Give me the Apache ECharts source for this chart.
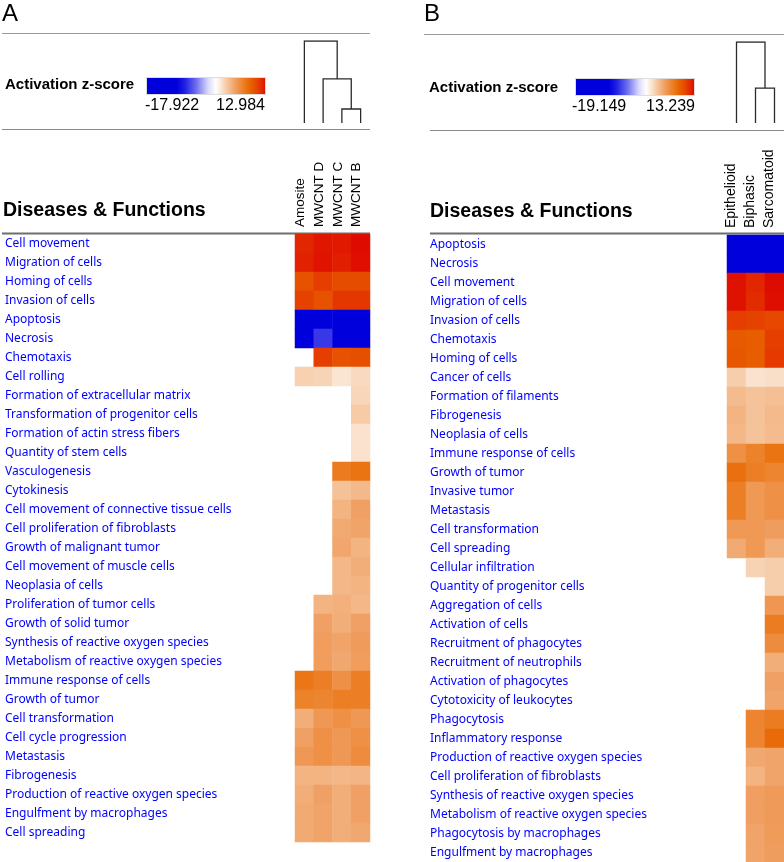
<!DOCTYPE html>
<html><head><meta charset="utf-8">
<script src="https://cdn.jsdelivr.net/npm/echarts@6/dist/echarts.min.js"></script>
<style>html,body{margin:0;padding:0;background:#fff}#c{width:784px;height:862px}</style>
</head><body><div id="c"></div><script>
// ---------- Panel A data ----------
const colsA = ['Amosite', 'MWCNT D', 'MWCNT C', 'MWCNT B'];
const rowsA = ['Cell movement','Migration of cells','Homing of cells','Invasion of cells','Apoptosis','Necrosis','Chemotaxis','Cell rolling','Formation of extracellular matrix','Transformation of progenitor cells','Formation of actin stress fibers','Quantity of stem cells','Vasculogenesis','Cytokinesis','Cell movement of connective tissue cells','Cell proliferation of fibroblasts','Growth of malignant tumor','Cell movement of muscle cells','Neoplasia of cells','Proliferation of tumor cells','Growth of solid tumor','Synthesis of reactive oxygen species','Metabolism of reactive oxygen species','Immune response of cells','Growth of tumor','Cell transformation','Cell cycle progression','Metastasis','Fibrogenesis','Production of reactive oxygen species','Engulfment by macrophages','Cell spreading'];
const amosite = [12.0,12.2,10.0,10.8,-14.2,-12.5,null,2.5,null,null,null,null,null,null,null,null,null,null,null,null,null,null,null,7.8,7.0,4.3,5.0,5.5,4.0,4.3,4.5,4.5];
const mwcntD  = [12.6,12.7,11.0,10.0,-15.6,-7.0,11.0,2.3,null,null,null,null,null,null,null,null,null,null,null,4.0,5.0,5.2,5.2,7.2,6.8,5.5,6.0,6.0,4.0,5.0,4.8,4.8];
const mwcntC  = [12.5,12.3,10.3,11.3,-17.922,-13.6,10.0,1.5,null,null,null,null,7.5,3.3,4.0,4.5,4.7,3.8,3.8,4.2,4.3,4.8,4.6,6.0,7.2,6.0,5.5,5.5,3.8,4.3,4.3,4.3];
const mwcntB  = [12.984,12.9,10.3,11.3,-16.5,-14.1,10.2,2.0,2.2,2.8,1.6,1.6,8.0,3.7,5.0,4.8,4.0,4.3,4.0,3.8,5.0,5.3,5.2,7.2,7.2,5.5,6.0,6.3,3.9,5.0,5.0,4.6];
const rangeA = [-17.922, 12.984];
const rangeLabelsA = ['-17.922', '12.984'];
// dendrogram A: leaf indices or merge references ('m0','m1'...), heights relative
const dendroA = [{left:2, right:3, height:0.171},{left:1, right:'m0', height:0.537},{left:0, right:'m1', height:1}];

// ---------- Panel B data ----------
const colsB = ['Epithelioid', 'Biphasic', 'Sarcomatoid'];
const rowsB = ['Apoptosis','Necrosis','Cell movement','Migration of cells','Invasion of cells','Chemotaxis','Homing of cells','Cancer of cells','Formation of filaments','Fibrogenesis','Neoplasia of cells','Immune response of cells','Growth of tumor','Invasive tumor','Metastasis','Cell transformation','Cell spreading','Cellular infiltration','Quantity of progenitor cells','Aggregation of cells','Activation of cells','Recruitment of phagocytes','Recruitment of neutrophils','Activation of phagocytes','Cytotoxicity of leukocytes','Phagocytosis','Inflammatory response','Production of reactive oxygen species','Cell proliferation of fibroblasts','Synthesis of reactive oxygen species','Metabolism of reactive oxygen species','Phagocytosis by macrophages','Engulfment by macrophages'];
const epithelioid = [-19.149,-13.0,12.8,12.8,11.0,9.5,9.7,2.6,3.6,4.0,3.8,6.0,8.2,7.2,7.2,5.5,4.5,null,null,null,null,null,null,null,null,null,null,null,null,null,null,null,null];
const biphasic    = [-16.0,-12.0,12.0,11.8,10.8,9.3,9.3,1.6,3.2,3.2,3.2,7.0,7.2,5.5,5.5,5.5,5.5,2.4,null,null,null,null,null,null,null,6.8,6.8,4.6,4.0,5.1,5.1,4.8,4.8];
const sarcomatoid = [-15.0,-11.5,13.239,12.9,10.5,11.0,11.2,1.8,3.4,3.7,3.6,8.0,6.8,6.0,6.0,5.2,4.3,2.6,2.6,5.6,7.4,6.3,4.3,5.0,4.8,7.4,8.5,4.8,4.8,5.4,5.4,5.3,5.2];
const rangeB = [-19.149, 13.239];
const rangeLabelsB = ['-19.149', '13.239'];
const dendroB = [{left:1, right:2, height:0.43},{left:0, right:'m0', height:1}];

// ---------- colour scale (style) ----------
const stops = [
  [-10,[0,0,220]],[-8,[30,30,225]],[-5,[110,110,240]],[-2,[215,215,250]],[0,[255,255,255]],
  [1.5,[250,228,210]],[2.5,[247,208,175]],[4,[243,180,130]],[5,[240,160,100]],[6,[238,145,70]],
  [7,[236,130,42]],[8,[234,115,18]],[9,[232,98,0]],[10,[230,82,0]],[11,[229,62,0]],[12,[226,38,0]],[13,[222,12,0]]
];
function colorOf(v){
  if (v <= stops[0][0]) return 'rgb(' + stops[0][1].join(',') + ')';
  for (let i = 1; i < stops.length; i++) {
    if (v <= stops[i][0]) {
      const [a, ca] = stops[i-1], [b, cb] = stops[i];
      const t = (v - a) / (b - a);
      return 'rgb(' + ca.map((c, k) => Math.round(c + (cb[k] - c) * t)).join(',') + ')';
    }
  }
  return 'rgb(' + stops[stops.length-1][1].join(',') + ')';
}
function sampleColors(range, n){
  const out = [];
  for (let i = 0; i < n; i++) out.push(colorOf(range[0] + (range[1]-range[0]) * i / (n-1)));
  return out;
}
function gradStops(range, n){
  const out = [];
  for (let i = 0; i < n; i++) out.push({offset: i/(n-1), color: colorOf(range[0] + (range[1]-range[0]) * i / (n-1))});
  return out;
}
function heatData(cols){
  const d = [];
  cols.forEach((arr, xi) => arr.forEach((v, yi) => { if (v !== null) d.push([xi, yi, v]); }));
  return d;
}
function dendroLines(merges){
  const nodes = [];
  const pos = r => (typeof r === 'string') ? nodes[+r.slice(1)] : {x: r, h: 0};
  const lines = [];
  merges.forEach(m => {
    const l = pos(m.left), r = pos(m.right);
    lines.push({coords: [[l.x, l.h], [l.x, m.height], [r.x, m.height], [r.x, r.h]]});
    nodes.push({x: (l.x + r.x) / 2, h: m.height});
  });
  return lines;
}

const SANS = '"Liberation Sans", Arial, sans-serif';
const LBL = '"Noto Sans", sans-serif';
const chart = echarts.init(document.getElementById('c'), null, {renderer: 'canvas'});

function hLine(x1, x2, y, color, w){
  return {type: 'line', shape: {x1, y1: y, x2, y2: y}, style: {stroke: color, lineWidth: w}, silent: true};
}
function txt(text, x, y, font, align, fill){
  return {type: 'text', style: {text, x, y, font, align: align || 'left', verticalAlign: 'middle', fill: fill || '#000'}, silent: true};
}

const graphics = [
  txt('A', 2, 14, '24px ' + SANS),
  txt('B', 424, 14, '24px ' + SANS),
  hLine(2, 370, 33.5, '#9a9a9a', 1),
  hLine(2, 370, 129.5, '#8a8a8a', 1),
  hLine(424, 784, 34.5, '#9a9a9a', 1),
  hLine(430, 784, 130.5, '#8a8a8a', 1),
  txt('Activation z-score', 5, 85, 'bold 15px ' + SANS),
  txt('Activation z-score', 429, 88, 'bold 15px ' + SANS),
  {type: 'rect', shape: {x: 146.5, y: 77.5, width: 119, height: 17},
   style: {fill: new echarts.graphic.LinearGradient(0, 0, 1, 0, gradStops(rangeA, 80)), stroke: '#dddddd', lineWidth: 1}, silent: true},
  {type: 'rect', shape: {x: 575.5, y: 78.5, width: 119, height: 17},
   style: {fill: new echarts.graphic.LinearGradient(0, 0, 1, 0, gradStops(rangeB, 80)), stroke: '#dddddd', lineWidth: 1}, silent: true},
  txt(rangeLabelsA[0], 145, 106, '16px ' + SANS),
  txt(rangeLabelsA[1], 265, 106, '16px ' + SANS, 'right'),
  txt(rangeLabelsB[0], 572, 107, '16px ' + SANS),
  txt(rangeLabelsB[1], 695, 107, '16px ' + SANS, 'right'),
  txt('Diseases & Functions', 3, 211, 'bold 19.5px ' + SANS),
  txt('Diseases & Functions', 430, 212, 'bold 19.5px ' + SANS),
  hLine(2, 370, 233.5, '#6e6e6e', 2),
  hLine(430, 784, 233.5, '#6e6e6e', 2)
];

const option = {
  animation: false,
  backgroundColor: '#fff',
  grid: [
    {left: 295, top: 234, width: 75, height: 608},
    {left: 295, top: 41, width: 75, height: 82},
    {left: 727, top: 235, width: 57, height: 627},
    {left: 727, top: 42, width: 57, height: 81}
  ],
  xAxis: [
    {type: 'category', gridIndex: 0, data: colsA, position: 'top',
     axisLine: {show: false}, axisTick: {show: false}, splitLine: {show: false}, axisLabel: {show: false}},
    {type: 'value', gridIndex: 1, min: -0.5, max: 3.5, show: false},
    {type: 'category', gridIndex: 2, data: colsB, position: 'top',
     axisLine: {show: false}, axisTick: {show: false}, splitLine: {show: false}, axisLabel: {show: false}},
    {type: 'value', gridIndex: 3, min: -0.5, max: 2.5, show: false}
  ],
  yAxis: [
    {type: 'category', gridIndex: 0, data: rowsA, inverse: true,
     axisLine: {show: false}, axisTick: {show: false}, splitLine: {show: false},
     axisLabel: {align: 'left', margin: 290, fontFamily: LBL, fontSize: 12, color: '#0000ff', interval: 0}},
    {type: 'value', gridIndex: 1, min: 0, max: 1, show: false},
    {type: 'category', gridIndex: 2, data: rowsB, inverse: true,
     axisLine: {show: false}, axisTick: {show: false}, splitLine: {show: false},
     axisLabel: {align: 'left', margin: 297, fontFamily: LBL, fontSize: 12, color: '#0000ff', interval: 0}},
    {type: 'value', gridIndex: 3, min: 0, max: 1, show: false}
  ],
  visualMap: [
    {type: 'continuous', show: false, seriesIndex: 0, min: rangeA[0], max: rangeA[1], inRange: {color: sampleColors(rangeA, 200)}},
    {type: 'continuous', show: false, seriesIndex: 2, min: rangeB[0], max: rangeB[1], inRange: {color: sampleColors(rangeB, 200)}}
  ],
  series: [
    {type: 'heatmap', xAxisIndex: 0, yAxisIndex: 0, data: heatData([amosite, mwcntD, mwcntC, mwcntB]), itemStyle: {borderWidth: 0}},
    {type: 'lines', coordinateSystem: 'cartesian2d', xAxisIndex: 1, yAxisIndex: 1, polyline: true, data: dendroLines(dendroA),
     lineStyle: {color: '#2a2a2a', width: 1.3, opacity: 1}, silent: true},
    {type: 'heatmap', xAxisIndex: 2, yAxisIndex: 2, data: heatData([epithelioid, biphasic, sarcomatoid]), itemStyle: {borderWidth: 0}},
    {type: 'lines', coordinateSystem: 'cartesian2d', xAxisIndex: 3, yAxisIndex: 3, polyline: true, data: dendroLines(dendroB),
     lineStyle: {color: '#2a2a2a', width: 1.3, opacity: 1}, silent: true}
  ],
  graphic: graphics
};
chart.setOption(option);

// Rotated column headers (reading bottom-to-top), placed with the category axes' own scale
function colHeaders(cols, xAxisIndex, gridTopY, dx, fontSize){
  return cols.map((name, i) => {
    const cx = chart.convertToPixel({xAxisIndex}, i);
    return {type: 'text', x: cx + dx, y: gridTopY, rotation: Math.PI / 2, silent: true,
            style: {text: name, x: 0, y: 0, font: fontSize + 'px ' + SANS, fill: '#000', align: 'left', verticalAlign: 'bottom'}};
  });
}
chart.setOption({graphic: graphics.concat(colHeaders(colsA, 0, 227, 3, 13.5), colHeaders(colsB, 2, 228, 2, 14))});
</script></body></html>
